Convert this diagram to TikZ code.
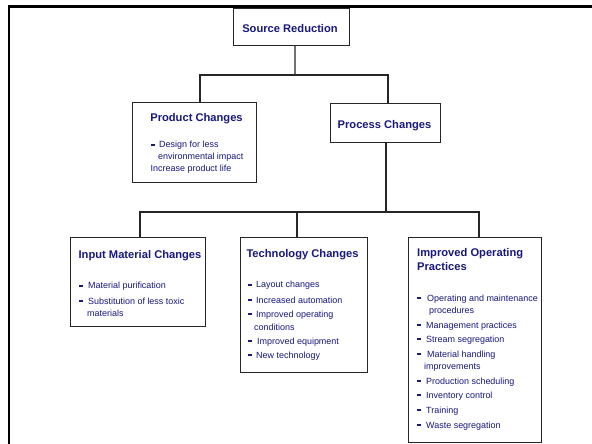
\documentclass[tikz,border=0pt]{standalone}
\usepackage{fontspec}
\setmainfont{Liberation Sans}
\definecolor{navy}{RGB}{24,24,128}
\begin{document}
\begin{tikzpicture}[x=1bp,y=-1bp,
 box/.style={draw=black!85,line width=0.9bp,inner sep=0,fill=white},
 ttl/.style={text=navy,font=\fontsize{11.2}{13}\selectfont\bfseries,inner sep=0,anchor=base},
 ttlw/.style={text=navy,font=\fontsize{11.2}{13}\selectfont\bfseries,inner sep=0,anchor=base west},
 itm/.style={text=navy,font=\fontsize{9}{11}\selectfont,inner sep=0,anchor=base west},
 dsh/.style={text=navy,inner sep=0,anchor=base west},
 con/.style={draw=black!85,line width=1.1bp}]
\newcommand{\dbar}{\rule[2.4bp]{3.6bp}{1.6bp}}
\useasboundingbox (0,0) rectangle (592,444);
\fill[white] (0,0) rectangle (592,444);
\draw[line width=2.6bp] (9,444) -- (9,6.3) -- (592,6.3);

% boxes
\node[box,minimum width=116bp,minimum height=37bp] (src) at (291,26.5) {};
\node[box,minimum width=124bp,minimum height=80bp] (prod) at (194,142) {};
\node[box,minimum width=110bp,minimum height=39bp] (proc) at (385,122.5) {};
\node[box,minimum width=135bp,minimum height=89bp] (inp) at (137.5,281.5) {};
\node[box,minimum width=127bp,minimum height=135bp] (tech) at (303.5,304.5) {};
\node[box,minimum width=133bp,minimum height=205bp] (imp) at (474.5,339.5) {};

% connectors
\coordinate (j1) at (295,75);
\coordinate (j2) at (386,212);
\draw[con] ([xshift=4bp]src.south) -- (j1);
\draw[con] ([xshift=6bp]prod.north) |- (j1) -| ([xshift=3bp]proc.north);
\draw[con] ([xshift=1bp]proc.south) -- (j2);
\draw[con] ([xshift=2.5bp]inp.north) |- (j2) -| ([xshift=4.5bp]imp.north);
\draw[con] ([xshift=-6.5bp]tech.north) -- ([xshift=-6.5bp]tech.north |- j2);

% titles
\node[ttl] (tsrc) at (290,33) {Source Reduction};
\node[ttl] (tprod) at (196.5,122) {Product Changes};
\node[ttl] (tproc) at (384.5,129) {Process Changes};
\node[ttl] (tinp) at (140,259) {Input Material Changes};
\node[ttl] (ttech) at (302.5,258) {Technology Changes};
\node[ttlw] (timp1) at (417,257) {Improved Operating};
\node[ttlw] (timp2) at (417,271) {Practices};

% product changes items
\node[dsh] (pd1) at (151,148) {\dbar};
\node[itm] (p1) at (159,148) {Design for less};
\node[itm] (p2) at (158,160) {environmental impact};
\node[itm] (p3) at (150.5,172) {Increase product life};

% input material items
\node[dsh] (id1) at (79,289) {\dbar};
\node[itm] (i1) at (88,289) {Material purification};
\node[dsh] (id2) at (79,304) {\dbar};
\node[itm] (i2) at (88,304) {Substitution of less toxic};
\node[itm] (i3) at (87,316) {materials};

% technology items
\node[dsh] (td1) at (248,288) {\dbar};
\node[itm] (te1) at (256,288) {Layout changes};
\node[dsh] (td2) at (248,303) {\dbar};
\node[itm] (te2) at (256,303) {Increased automation};
\node[dsh] (td3) at (248,317) {\dbar};
\node[itm] (te3) at (256,317) {Improved operating};
\node[itm] (te4) at (254,330) {conditions};
\node[dsh] (td4) at (248,344) {\dbar};
\node[itm] (te5) at (257,344) {Improved equipment};
\node[dsh] (td5) at (248,358) {\dbar};
\node[itm] (te6) at (256,358) {New technology};

% improved operating items
\node[dsh] (od1) at (417,301) {\dbar};
\node[itm] (o1) at (427,301) {Operating and maintenance};
\node[itm] (o2) at (429,313) {procedures};
\node[dsh] (od2) at (417,328) {\dbar};
\node[itm] (o3) at (426,328) {Management practices};
\node[dsh] (od3) at (417,342) {\dbar};
\node[itm] (o4) at (426,342) {Stream segregation};
\node[dsh] (od4) at (417,357) {\dbar};
\node[itm] (o5) at (427,357) {Material handling};
\node[itm] (o6) at (424,369) {improvements};
\node[dsh] (od5) at (417,384) {\dbar};
\node[itm] (o7) at (426,384) {Production scheduling};
\node[dsh] (od6) at (417,398) {\dbar};
\node[itm] (o8) at (426,398) {Inventory control};
\node[dsh] (od7) at (417,413) {\dbar};
\node[itm] (o9) at (426,413) {Training};
\node[dsh] (od8) at (417,428) {\dbar};
\node[itm] (o10) at (426,428) {Waste segregation};
\end{tikzpicture}
\end{document}
